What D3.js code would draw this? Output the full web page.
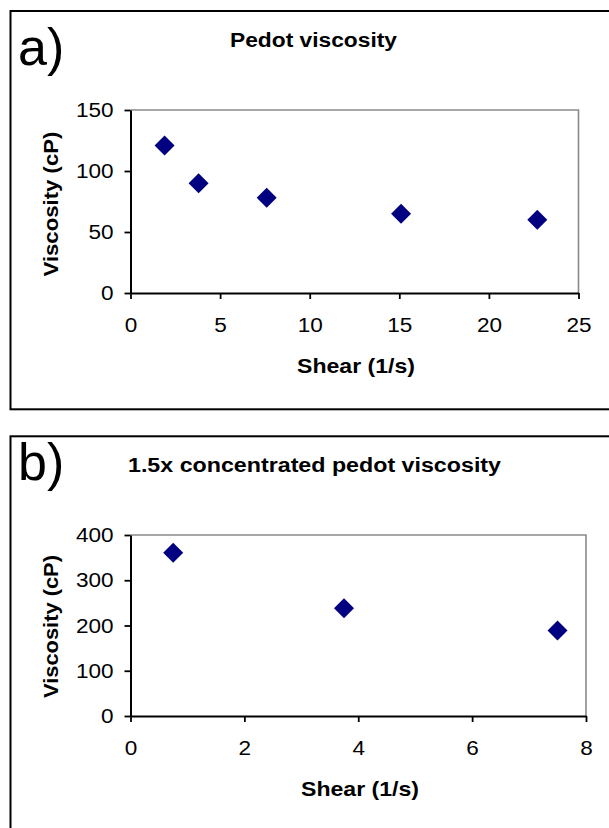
<!DOCTYPE html>
<html>
<head>
<meta charset="utf-8">
<script src="https://cdn.jsdelivr.net/npm/d3@7"></script>
<style>
  html, body { margin: 0; padding: 0; background: #fff; }
  svg { display: block; font-family: "Liberation Sans", Arial, sans-serif; }
</style>
</head>
<body>
<svg id="chart" width="609" height="828"></svg>
<script>
// Panel a: Pedot viscosity
const shearA = [1.9, 3.8, 7.6, 15.1, 22.7];
const viscA = [121, 90, 78, 65, 60];
const xTicksA = [0, 5, 10, 15, 20, 25];
const yTicksA = [0, 50, 100, 150];

// Panel b: 1.5x concentrated pedot viscosity
const shearB = [0.75, 3.75, 7.5];
const viscB = [361, 238, 189];
const xTicksB = [0, 2, 4, 6, 8];
const yTicksB = [0, 100, 200, 300, 400];

const svg = d3.select("#chart");
const TICK_SX = 1.1;    // wide tick numerals
const MARKER = "#000080";

const panels = [
  {
    label: "a)", title: "Pedot viscosity", titleLen: 167,
    x: shearA, y: viscA, xTicks: xTicksA, yTicks: yTicksA,
    xDomain: [0, 25], yDomain: [0, 150],
    box: { top: 11, bottom: 409.3 },
    plot: { left: 130.5, right: 578.5, top: 110, bottom: 293 },
    titleX: 313.5, titleY: 46.7, labelY: 65,
    xTitleX: 356, xTitleY: 373, yTitleY: 204, yTitleLen: 145
  },
  {
    label: "b)", title: "1.5x concentrated pedot viscosity", titleLen: 373,
    x: shearB, y: viscB, xTicks: xTicksB, yTicks: yTicksB,
    xDomain: [0, 8], yDomain: [0, 400],
    box: { top: 436.3, bottom: 900 },
    plot: { left: 130.5, right: 586, top: 535, bottom: 716 },
    titleX: 314.5, titleY: 471.5, labelY: 480,
    xTitleX: 360, xTitleY: 796, yTitleY: 626.5, yTitleLen: 143
  }
];

panels.forEach(p => {
  const g = svg.append("g");

  // outer frame (runs past the right edge of the page)
  g.append("rect")
    .attr("x", 10.5).attr("y", p.box.top)
    .attr("width", 640).attr("height", p.box.bottom - p.box.top)
    .attr("fill", "none").attr("stroke", "#000").attr("stroke-width", 2);

  // panel letter
  g.append("text")
    .attr("x", 18).attr("y", p.labelY)
    .attr("font-size", 52).attr("fill", "#000")
    .text(p.label);

  // chart title
  g.append("text")
    .attr("x", p.titleX).attr("y", p.titleY)
    .attr("text-anchor", "middle")
    .attr("font-size", 20).attr("font-weight", "bold")
    .attr("textLength", p.titleLen).attr("lengthAdjust", "spacingAndGlyphs")
    .text(p.title);

  const x = d3.scaleLinear().domain(p.xDomain).range([p.plot.left, p.plot.right]);
  const y = d3.scaleLinear().domain(p.yDomain).range([p.plot.bottom, p.plot.top]);

  // plot-area border: grey top and right edges
  g.append("path")
    .attr("d", `M${p.plot.left},${p.plot.top}H${p.plot.right}V${p.plot.bottom}`)
    .attr("fill", "none").attr("stroke", "#8a8a8a").attr("stroke-width", 1.6);

  // y axis
  const yAxis = g.append("g")
    .attr("transform", `translate(${p.plot.left},0)`)
    .call(d3.axisLeft(y).tickValues(p.yTicks).tickSize(6).tickSizeOuter(0).tickPadding(10));
  yAxis.select(".domain").attr("stroke", "#000").attr("stroke-width", 2);
  yAxis.selectAll(".tick line").attr("stroke", "#000").attr("stroke-width", 1.8);
  yAxis.selectAll(".tick text")
    .attr("font-family", "Liberation Sans, Arial, sans-serif")
    .attr("font-size", 20.5).attr("fill", "#000")
    .attr("x", -17 / TICK_SX)
    .attr("transform", `scale(${TICK_SX},1)`);

  // x axis
  const xAxis = g.append("g")
    .attr("transform", `translate(0,${p.plot.bottom})`)
    .call(d3.axisBottom(x).tickValues(p.xTicks).tickSize(6).tickSizeOuter(0).tickPadding(18.5));
  xAxis.select(".domain").attr("stroke", "#000").attr("stroke-width", 2);
  xAxis.selectAll(".tick line").attr("stroke", "#000").attr("stroke-width", 1.8);
  xAxis.selectAll(".tick text")
    .attr("font-family", "Liberation Sans, Arial, sans-serif")
    .attr("font-size", 20.5).attr("fill", "#000")
    .attr("transform", `scale(${TICK_SX},1)`);

  // axis titles
  g.append("text")
    .attr("x", p.xTitleX).attr("y", p.xTitleY)
    .attr("text-anchor", "middle")
    .attr("font-size", 21).attr("font-weight", "bold")
    .attr("textLength", 118).attr("lengthAdjust", "spacingAndGlyphs")
    .text("Shear (1/s)");

  g.append("text")
    .attr("transform", `translate(58,${p.yTitleY}) rotate(-90)`)
    .attr("text-anchor", "middle")
    .attr("font-size", 20).attr("font-weight", "bold")
    .attr("textLength", p.yTitleLen).attr("lengthAdjust", "spacingAndGlyphs")
    .text("Viscosity (cP)");

  // diamond markers
  const diamond = d3.symbol().type(d3.symbolSquare).size(200);
  g.append("g").selectAll("path")
    .data(p.x.map((v, i) => [v, p.y[i]]))
    .join("path")
    .attr("d", diamond)
    .attr("transform", d => `translate(${x(d[0])},${y(d[1])}) rotate(45)`)
    .attr("fill", MARKER);
});
</script>
</body>
</html>
